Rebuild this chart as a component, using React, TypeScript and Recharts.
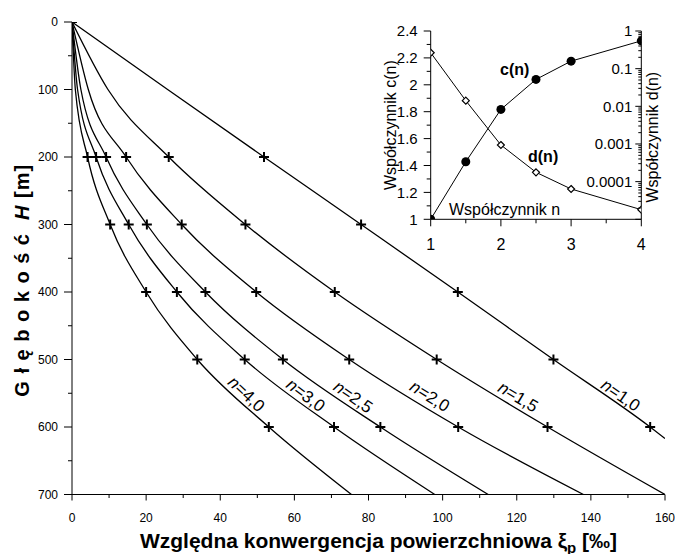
import React from 'react';
import { LineChart, Line, XAxis, YAxis, ComposedChart, ReferenceDot, Customized } from 'recharts';

// ---------- main chart data ----------
const depths = [0, 100, 200, 300, 400, 500, 600, 700];
const depthsN10 = [0, 100, 200, 300, 400, 500, 600, 617];
const markerDepths = [0, 200, 300, 400, 500, 600];

const xiN10 = [0, 25.8, 51.8, 78.0, 104.1, 129.9, 156.0, 160];
const xiN15 = [0, 9.7, 26.1, 46.8, 70.9, 98.4, 128.3, 160];
const xiN20 = [0, 4.4, 14.6, 29.6, 49.7, 74.8, 104.2, 138.0];
const xiN25 = [0, 2.4, 9.2, 20.2, 36.0, 56.9, 83.2, 112.3];
const xiN30 = [0, 1.5, 6.5, 15.3, 28.3, 46.6, 70.7, 97.9];
const xiN40 = [0, 0.9, 4.2, 10.3, 20.0, 33.8, 53.1, 75.4];

const curveNames = ['1,0', '1,5', '2,0', '2,5', '3,0', '4,0'];
const curveDepths = [depthsN10, depths, depths, depths, depths, depths];
const curveValues = [xiN10, xiN15, xiN20, xiN25, xiN30, xiN40];

const xTicks = [0, 10, 20, 30, 40, 50, 60, 70, 80, 90, 100, 110, 120, 130, 140, 150, 160];
const yTicks = [0, 50, 100, 150, 200, 250, 300, 350, 400, 450, 500, 550, 600, 650, 700];

// ---------- inset data ----------
const nValues = [1, 1.5, 2, 2.5, 3, 4];
const cValues = [1.0, 1.428, 1.817, 2.040, 2.176, 2.327];
const dValues = [0.265, 0.0141, 0.00094, 0.000177, 0.0000638, 0.000018];

const nTicks = [1, 1.5, 2, 2.5, 3, 3.5, 4];
const cTicks = [1, 1.1, 1.2, 1.3, 1.4, 1.5, 1.6, 1.7, 1.8, 1.9, 2, 2.1, 2.2, 2.3, 2.4];
const cLabeled = [1, 1.2, 1.4, 1.6, 1.8, 2, 2.2, 2.4];
const dDecades = [1, 0.1, 0.01, 0.001, 0.0001, 0.00001];
const dLabeled = [1, 0.1, 0.01, 0.001, 0.0001];
const dMinorMult = [2, 3, 4, 5, 6, 7, 8, 9];
const dTicks = [...dDecades, ...dDecades.slice(1).flatMap((d) => dMinorMult.map((k) => k * d))].sort((a, b) => a - b);

const FONT = '"Liberation Sans", Arial, Helvetica, sans-serif';

const curves = curveNames.map((name, i) => ({
  name,
  points: curveValues[i].map((x, j) => ({ x, h: curveDepths[i][j] })),
}));

const insetData = nValues.map((n, i) => ({ n, c: cValues[i], d: dValues[i] }));

// ---------- renderers ----------
const PlusDot = (props: any) => {
  const { cx, cy, payload, index } = props;
  if (cx == null || cy == null || !markerDepths.includes(payload.h)) return <g key={`e${index}`} />;
  return (
    <path
      key={`p${index}`}
      d={`M${cx - 5},${cy}H${cx + 5}M${cx},${cy - 5}V${cy + 5}`}
      stroke="#000"
      strokeWidth={2}
      fill="none"
    />
  );
};

const MainXTick = (props: any) => {
  const { x, y, payload } = props;
  const v = payload.value;
  const major = v % 20 === 0;
  return (
    <g>
      <line x1={x} x2={x} y1={y} y2={y + (major ? 6 : 3.5)} stroke="#000" />
      {major && (
        <text x={x} y={y + 27} textAnchor="middle" fontSize={12} fontFamily={FONT} fill="#000">
          {v}
        </text>
      )}
    </g>
  );
};

const MainYTick = (props: any) => {
  const { x, y, payload } = props;
  const v = payload.value;
  const major = v % 100 === 0;
  return (
    <g>
      <line x1={x - (major ? 8 : 4)} x2={x} y1={y} y2={y} stroke="#000" />
      {major && (
        <text x={x - 14} y={y} dy="0.35em" textAnchor="end" fontSize={12} fontFamily={FONT} fill="#000">
          {v}
        </text>
      )}
    </g>
  );
};

const MainXTitle = (props: any) => {
  const vb = props.viewBox || { x: 72, y: 494, width: 593 };
  const cx = vb.x + vb.width / 2 + 10;
  const cy = vb.y + 53;
  return (
    <text x={cx} y={cy} textAnchor="middle" fontSize={21} fontWeight="bold" fontFamily={FONT} fill="#000">
      Względna konwergencja powierzchniowa ξ
      <tspan dy={5} fontSize={15}>p</tspan>
      <tspan dy={-5}> [‰]</tspan>
    </text>
  );
};

const MainYTitle = (props: any) => {
  const vb = props.viewBox || { x: 0, y: 22, width: 72, height: 472 };
  const cx = vb.x + 29;
  const cy = vb.y + vb.height / 2 + 22;
  return (
    <text
      x={cx}
      y={cy}
      transform={`rotate(-90 ${cx} ${cy})`}
      textAnchor="middle"
      fontSize={20}
      fontWeight="bold"
      fontFamily={FONT}
      fill="#000"
      letterSpacing={1}
      style={{ whiteSpace: 'pre' }}
    >
      {'G ł ę b o k o ś ć  '}
      <tspan fontStyle="italic">H</tspan>
      {' [m]'}
    </text>
  );
};

const CurveLabel = (props: any) => {
  const { viewBox, text, rot } = props;
  const cx = viewBox.x + (viewBox.width || 0) / 2;
  const cy = viewBox.y + (viewBox.height || 0) / 2;
  return (
    <g transform={`translate(${cx} ${cy}) rotate(${rot})`}>
      <text x={0} y={0} dy="0.35em" textAnchor="middle" fontSize={17} fontFamily={FONT} fill="#000">
        <tspan fontStyle="italic">n</tspan>={text}
      </text>
    </g>
  );
};

const curveLabels = [
  { text: '4,0', x: 47.1, h: 551, rot: 43 },
  { text: '3,0', x: 63.1, h: 552.6, rot: 37 },
  { text: '2,5', x: 75.9, h: 555, rot: 35 },
  { text: '2,0', x: 96.6, h: 554, rot: 32 },
  { text: '1,5', x: 120.4, h: 555, rot: 31 },
  { text: '1,0', x: 148.1, h: 552.6, rot: 35 },
];

// inset renderers
const InsetXTick = (props: any) => {
  const { x, y, payload } = props;
  const v = payload.value;
  const major = Number.isInteger(v);
  return (
    <g>
      <line x1={x} x2={x} y1={y} y2={y + (major ? 7 : 4)} stroke="#000" />
      {major && (
        <text x={x} y={y + 31} textAnchor="middle" fontSize={16} fontFamily={FONT} fill="#000">
          {v}
        </text>
      )}
    </g>
  );
};

const InsetLeftTick = (props: any) => {
  const { x, y, payload } = props;
  const v = payload.value;
  const major = cLabeled.includes(v);
  return (
    <g>
      <line x1={x - (major ? 7 : 4)} x2={x} y1={y} y2={y} stroke="#000" />
      {major && (
        <text x={x - 13} y={y} dy="0.35em" textAnchor="end" fontSize={15} fontFamily={FONT} fill="#000">
          {String(v)}
        </text>
      )}
    </g>
  );
};

const InsetRightTick = (props: any) => {
  const { x, y, payload } = props;
  const v = payload.value;
  const major = dDecades.includes(v);
  const labeled = dLabeled.includes(v);
  return (
    <g>
      <line x1={x - (major ? 6 : 3)} x2={x} y1={y} y2={y} stroke="#000" />
      {labeled && (
        <text x={x - 9} y={y} dy="0.35em" textAnchor="end" fontSize={15} fontFamily={FONT} fill="#000">
          {String(v)}
        </text>
      )}
    </g>
  );
};

const CircleDot = (props: any) => {
  const { cx, cy, index } = props;
  return <circle key={`c${index}`} cx={cx} cy={cy} r={4.5} fill="#000" />;
};

const DiamondDot = (props: any) => {
  const { cx, cy, index } = props;
  const s = 3.5;
  return (
    <path
      key={`d${index}`}
      d={`M${cx},${cy - s}L${cx + s},${cy}L${cx},${cy + s}L${cx - s},${cy}Z`}
      fill="#fff"
      stroke="#000"
      strokeWidth={1.2}
    />
  );
};

const InsetLeftTitle = (props: any) => {
  const vb = props.viewBox || { x: 0, y: 31, width: 50, height: 188 };
  const cx = vb.x + 16;
  const cy = vb.y + vb.height / 2;
  return (
    <text x={cx} y={cy} transform={`rotate(-90 ${cx} ${cy})`} textAnchor="middle" fontSize={16} fontFamily={FONT} fill="#000">
      Współczynnik c(n)
    </text>
  );
};

const InsetRightTitle = (props: any) => {
  const vb = props.viewBox || { x: 261, y: 31, width: 34, height: 188 };
  const cx = vb.x + 17;
  const cy = vb.y + vb.height / 2 + 12;
  return (
    <text x={cx} y={cy} transform={`rotate(-90 ${cx} ${cy})`} textAnchor="middle" fontSize={16} fontFamily={FONT} fill="#000">
      Współczynnik d(n)
    </text>
  );
};

const InsetNotes = () => (
  <g fontFamily={FONT} fill="#000">
    <text x={120} y={75} fontSize={16} fontWeight="bold">c(n)</text>
    <text x={148} y={162} fontSize={16} fontWeight="bold">d(n)</text>
    <text x={69} y={215} fontSize={16}>Współczynnik n</text>
  </g>
);

export default function App() {
  return (
    <div style={{ position: 'absolute', left: 0, top: 0, width: 675, height: 554, background: '#fff' }}>
      <div style={{ position: 'absolute', left: 0, top: 0 }}>
        <LineChart width={675} height={554} margin={{ top: 22, right: 10, left: 0, bottom: 0 }}>
          <XAxis
            type="number"
            dataKey="x"
            domain={[0, 160]}
            ticks={xTicks}
            interval={0}
            allowDataOverflow
            height={59.5}
            tickSize={0}
            tickMargin={0}
            tickLine={false}
            stroke="#000"
            tick={<MainXTick />}
            label={<MainXTitle />}
          />
          <YAxis
            type="number"
            dataKey="h"
            reversed
            domain={[0, 700]}
            ticks={yTicks}
            interval={0}
            allowDataOverflow
            width={72}
            tickSize={0}
            tickMargin={0}
            tickLine={false}
            stroke="#000"
            tick={<MainYTick />}
            label={<MainYTitle />}
          />
          {curves.map((c) => (
            <Line
              key={c.name}
              data={c.points}
              dataKey="h"
              type="monotone"
              stroke="#000"
              strokeWidth={1.3}
              dot={PlusDot}
              activeDot={false}
              isAnimationActive={false}
            />
          ))}
          {curveLabels.map((l) => (
            <ReferenceDot
              key={l.text}
              x={l.x}
              y={l.h}
              r={0}
              fill="none"
              stroke="none"
              label={<CurveLabel text={l.text} rot={l.rot} />}
            />
          ))}
        </LineChart>
      </div>
      <div style={{ position: 'absolute', left: 380, top: 0 }}>
        <ComposedChart width={295} height={270} data={insetData} margin={{ top: 31, right: 0, left: 0, bottom: 0 }}>
          <XAxis
            type="number"
            dataKey="n"
            domain={[1, 4]}
            ticks={nTicks}
            interval={0}
            allowDataOverflow
            height={50.7}
            tickSize={0}
            tickMargin={0}
            tickLine={false}
            stroke="#000"
            tick={<InsetXTick />}
          />
          <YAxis
            yAxisId="left"
            type="number"
            domain={[1, 2.4]}
            ticks={cTicks}
            interval={0}
            allowDataOverflow
            width={50.7}
            tickSize={0}
            tickMargin={0}
            tickLine={false}
            stroke="#000"
            tick={<InsetLeftTick />}
            label={<InsetLeftTitle />}
          />
          <YAxis
            yAxisId="right"
            orientation="right"
            type="number"
            scale="log"
            domain={[0.00001, 1]}
            ticks={dTicks}
            interval={0}
            allowDataOverflow
            width={33.7}
            tickSize={0}
            tickMargin={0}
            tickLine={false}
            stroke="#000"
            tick={<InsetRightTick />}
            label={<InsetRightTitle />}
          />
          <Line
            yAxisId="left"
            dataKey="c"
            type="linear"
            stroke="#000"
            strokeWidth={1}
            dot={CircleDot}
            activeDot={false}
            isAnimationActive={false}
          />
          <Line
            yAxisId="right"
            dataKey="d"
            type="linear"
            stroke="#000"
            strokeWidth={1}
            dot={DiamondDot}
            activeDot={false}
            isAnimationActive={false}
          />
          <Customized component={InsetNotes} />
        </ComposedChart>
      </div>
    </div>
  );
}
